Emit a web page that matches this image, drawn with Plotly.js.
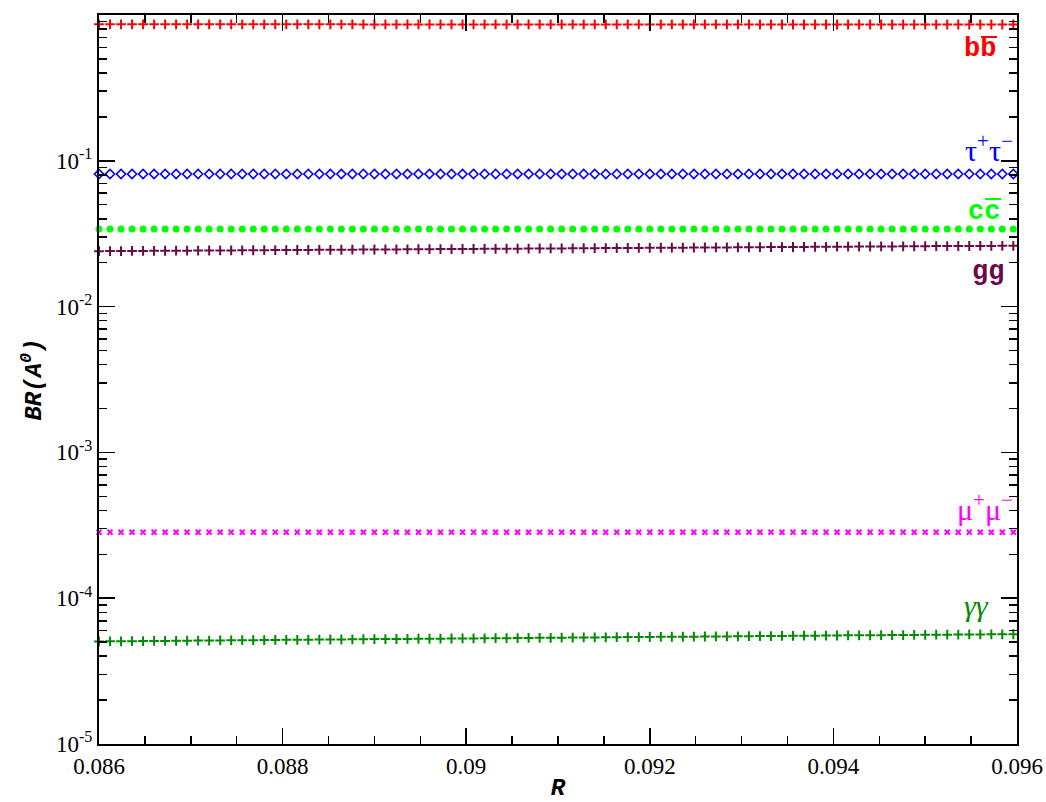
<!DOCTYPE html>
<html>
<head>
<meta charset="utf-8">
<script src="https://cdn.plot.ly/plotly-3.0.1.min.js"></script>
<style>
html,body{margin:0;padding:0;background:#fff;}
#chart{width:1046px;height:802px;}
#chart .xtick text, #chart .ytick text { font-family: 'Liberation Serif', 'Times New Roman', serif !important; font-size: 23px !important; }
#chart text.xtitle, #chart text.ytitle { font-family: 'Liberation Mono', 'Courier New', monospace !important; font-size: 24px !important; }
#chart .annotation[data-index="0"] text, #chart .annotation[data-index="1"] text, #chart .annotation[data-index="2"] text { font-family: 'Liberation Mono', 'Courier New', monospace !important; font-size: 27px !important; }
#chart .annotation[data-index="3"] text, #chart .annotation[data-index="4"] text, #chart .annotation[data-index="5"] text { font-family: 'Liberation Serif', 'Times New Roman', serif !important; font-size: 30px !important; }
</style>
</head>
<body>
<div id="chart"></div>
<script>
// R values (x)
var rValues = [
0.08600,0.08612,0.08624,0.08636,0.08648,0.08660,0.08672,0.08684,0.08696,0.08708,0.08720,0.08732,
0.08744,0.08756,0.08768,0.08780,0.08792,0.08804,0.08816,0.08828,0.08840,0.08852,0.08864,0.08876,
0.08888,0.08900,0.08912,0.08924,0.08936,0.08948,0.08960,0.08972,0.08984,0.08996,0.09008,0.09020,
0.09032,0.09044,0.09056,0.09068,0.09080,0.09092,0.09104,0.09116,0.09128,0.09140,0.09152,0.09164,
0.09176,0.09188,0.09200,0.09212,0.09224,0.09236,0.09248,0.09260,0.09272,0.09284,0.09296,0.09308,
0.09320,0.09332,0.09344,0.09356,0.09368,0.09380,0.09392,0.09404,0.09416,0.09428,0.09440,0.09452,
0.09464,0.09476,0.09488,0.09500,0.09512,0.09524,0.09536,0.09548,0.09560,0.09572,0.09584,0.09596
];
var brBB = [
0.863,0.863,0.863,0.863,0.863,0.863,0.863,0.863,0.863,0.863,0.863,0.863,
0.863,0.863,0.863,0.863,0.863,0.863,0.863,0.863,0.863,0.863,0.863,0.863,
0.862,0.862,0.862,0.862,0.862,0.862,0.862,0.862,0.862,0.862,0.862,0.862,
0.862,0.862,0.862,0.862,0.862,0.862,0.862,0.862,0.862,0.862,0.862,0.862,
0.862,0.862,0.862,0.862,0.862,0.862,0.862,0.862,0.862,0.862,0.862,0.862,
0.861,0.861,0.861,0.861,0.861,0.861,0.861,0.861,0.861,0.861,0.861,0.861,
0.861,0.861,0.861,0.861,0.861,0.861,0.861,0.861,0.861,0.861,0.861,0.861
];
var brTauTau = [
0.0812,0.0812,0.0812,0.0812,0.0812,0.0812,0.0812,0.0812,0.0812,0.0812,0.0812,0.0812,
0.0812,0.0812,0.0812,0.0812,0.0812,0.0812,0.0812,0.0812,0.0812,0.0812,0.0812,0.0812,
0.0812,0.0812,0.0812,0.0812,0.0812,0.0812,0.0812,0.0812,0.0812,0.0812,0.0812,0.0812,
0.0812,0.0812,0.0812,0.0812,0.0812,0.0812,0.0812,0.0812,0.0812,0.0812,0.0812,0.0812,
0.0812,0.0812,0.0812,0.0812,0.0812,0.0812,0.0812,0.0812,0.0812,0.0812,0.0812,0.0812,
0.0812,0.0812,0.0812,0.0812,0.0812,0.0812,0.0812,0.0812,0.0812,0.0812,0.0812,0.0812,
0.0812,0.0812,0.0812,0.0812,0.0812,0.0812,0.0812,0.0812,0.0812,0.0812,0.0812,0.0812
];
var brCC = [
0.0341,0.0341,0.0341,0.0341,0.0341,0.0341,0.0341,0.0341,0.0341,0.0341,0.0341,0.0341,
0.0341,0.0341,0.0341,0.0341,0.0341,0.0341,0.0341,0.0341,0.0341,0.0341,0.0341,0.0341,
0.0341,0.0341,0.0341,0.0341,0.0341,0.0341,0.0341,0.0341,0.0341,0.0341,0.0341,0.0341,
0.0341,0.0341,0.0341,0.0341,0.0341,0.0341,0.0341,0.0341,0.0341,0.0341,0.0341,0.0341,
0.0341,0.0341,0.0341,0.0341,0.0341,0.0341,0.0341,0.0341,0.0341,0.0341,0.0341,0.0341,
0.0341,0.0341,0.0341,0.0341,0.0341,0.0341,0.0341,0.0341,0.0341,0.0341,0.0341,0.0341,
0.0341,0.0341,0.0341,0.0341,0.0341,0.0341,0.0341,0.0341,0.0341,0.0341,0.0341,0.0341
];
var brGG = [
0.02400,0.02403,0.02405,0.02408,0.02410,0.02413,0.02415,0.02418,0.02420,0.02423,0.02425,0.02428,
0.02430,0.02433,0.02435,0.02438,0.02440,0.02443,0.02445,0.02448,0.02450,0.02453,0.02455,0.02458,
0.02460,0.02463,0.02466,0.02468,0.02471,0.02474,0.02476,0.02479,0.02482,0.02484,0.02487,0.02490,
0.02492,0.02495,0.02498,0.02500,0.02503,0.02506,0.02508,0.02511,0.02514,0.02516,0.02519,0.02522,
0.02524,0.02527,0.02530,0.02532,0.02535,0.02538,0.02540,0.02543,0.02546,0.02548,0.02551,0.02554,
0.02556,0.02559,0.02562,0.02564,0.02567,0.02570,0.02572,0.02575,0.02578,0.02580,0.02583,0.02586,
0.02588,0.02591,0.02594,0.02596,0.02599,0.02601,0.02603,0.02605,0.02607,0.02609,0.02611,0.02613
];
var brMuMu = [
2.83e-4,2.83e-4,2.83e-4,2.83e-4,2.83e-4,2.83e-4,2.83e-4,2.83e-4,2.83e-4,2.83e-4,2.83e-4,2.83e-4,
2.83e-4,2.83e-4,2.83e-4,2.83e-4,2.83e-4,2.83e-4,2.83e-4,2.83e-4,2.83e-4,2.83e-4,2.83e-4,2.83e-4,
2.83e-4,2.83e-4,2.83e-4,2.83e-4,2.83e-4,2.83e-4,2.83e-4,2.83e-4,2.83e-4,2.83e-4,2.83e-4,2.83e-4,
2.83e-4,2.83e-4,2.83e-4,2.83e-4,2.83e-4,2.83e-4,2.83e-4,2.83e-4,2.83e-4,2.83e-4,2.83e-4,2.83e-4,
2.83e-4,2.83e-4,2.83e-4,2.83e-4,2.83e-4,2.83e-4,2.83e-4,2.83e-4,2.83e-4,2.83e-4,2.83e-4,2.83e-4,
2.83e-4,2.83e-4,2.83e-4,2.83e-4,2.83e-4,2.83e-4,2.83e-4,2.83e-4,2.83e-4,2.83e-4,2.83e-4,2.83e-4,
2.83e-4,2.83e-4,2.83e-4,2.83e-4,2.83e-4,2.83e-4,2.83e-4,2.83e-4,2.83e-4,2.83e-4,2.83e-4,2.83e-4
];
var brGamGam = [
5.05e-5,5.06e-5,5.06e-5,5.07e-5,5.08e-5,5.09e-5,5.09e-5,5.10e-5,5.11e-5,5.12e-5,5.12e-5,5.13e-5,
5.14e-5,5.15e-5,5.15e-5,5.16e-5,5.17e-5,5.18e-5,5.18e-5,5.19e-5,5.20e-5,5.21e-5,5.21e-5,5.22e-5,
5.23e-5,5.24e-5,5.24e-5,5.25e-5,5.26e-5,5.27e-5,5.27e-5,5.28e-5,5.29e-5,5.30e-5,5.30e-5,5.31e-5,
5.32e-5,5.32e-5,5.33e-5,5.34e-5,5.35e-5,5.35e-5,5.36e-5,5.37e-5,5.38e-5,5.38e-5,5.39e-5,5.40e-5,
5.41e-5,5.41e-5,5.42e-5,5.43e-5,5.44e-5,5.44e-5,5.45e-5,5.46e-5,5.47e-5,5.47e-5,5.48e-5,5.49e-5,
5.50e-5,5.50e-5,5.51e-5,5.52e-5,5.53e-5,5.53e-5,5.54e-5,5.55e-5,5.56e-5,5.56e-5,5.57e-5,5.58e-5,
5.59e-5,5.59e-5,5.60e-5,5.61e-5,5.62e-5,5.62e-5,5.63e-5,5.64e-5,5.64e-5,5.65e-5,5.65e-5,5.66e-5
];
var yTickValues = [1e-5, 1e-4, 1e-3, 1e-2, 1e-1, 1];
var yTickLabels = ["10<sup>-5</sup>","10<sup>-4</sup>","10<sup>-3</sup>","10<sup>-2</sup>","10<sup>-1</sup>","10<sup>0</sup>"];

(function () {
  function mk(y, symbol, color, size, lw) {
    return {x: rValues, y: y, type: 'scatter', mode: 'markers', showlegend: false, hoverinfo: 'skip', cliponaxis: false,
      marker: {symbol: symbol, size: size, color: color, line: {color: color, width: lw}}};
  }
  var SERIF = 'Liberation Serif';
  var MONO = 'Liberation Mono';
  var data = [
    mk(brBB, 'cross-thin', '#ff0000', 7, 2),
    mk(brTauTau, 'diamond-open', '#0000ff', 7, 1.6),
    mk(brCC, 'circle', '#00ff00', 7, 0),
    mk(brGG, 'cross-thin', '#6b0a48', 7, 2),
    mk(brMuMu, 'x-thin', '#ff00ff', 5, 2),
    mk(brGamGam, 'cross-thin', '#008b00', 7, 2)
  ];
  var PL = 99, PR = 1017, PT = 15, PB = 744;
  function fx(x){ return (x - PL) / (PR - PL); }
  function fy(y){ return (PB - y) / (PB - PT); }
  function lab(text, x, y, color, size, family) {
    return {text: text, xref: 'paper', yref: 'paper', x: fx(x), y: fy(y), xanchor: 'right', yanchor: 'middle',
      showarrow: false, font: {family: family, size: size, color: color}};
  }
  var anns = [
    lab('<b>bb</b>', 998, 49, '#ff0000', 27, MONO),
    lab('<b>cc</b>', 1002, 212, '#00ff00', 27, MONO),
    lab('<b>gg</b>', 1006, 272, '#6b0a48', 27, MONO),
    lab('τ<sup>+</sup>τ<sup>−</sup>', 1015, 148, '#0000ff', 30, SERIF),
    lab('μ<sup>+</sup>μ<sup>−</sup>', 1015, 507, '#ff00ff', 30, SERIF),
    lab('<i>γγ</i>', 991, 605, '#008b00', 30, SERIF)
  ];
  var lines = [
    {type: 'line', xref: 'paper', yref: 'paper', x0: fx(981), x1: fx(997), y0: fy(37), y1: fy(37), line: {color: '#ff0000', width: 2}},
    {type: 'line', xref: 'paper', yref: 'paper', x0: fx(985), x1: fx(1001), y0: fy(199), y1: fy(199), line: {color: '#00ff00', width: 2}}
  ];
  var lay = {
    width: 1046, height: 802,
    margin: {l: PL, r: 1046 - PR, t: PT, b: 802 - PB},
    paper_bgcolor: '#ffffff', plot_bgcolor: '#ffffff',
    showlegend: false,
    xaxis: {
      range: [0.086, 0.096], tick0: 0.086, dtick: 0.002, tickmode: 'linear',
      ticks: 'inside', ticklen: 16, tickwidth: 1.5, tickcolor: '#000',
      minor: {ticks: 'inside', ticklen: 8, tickwidth: 1.5, tickcolor: '#000', dtick: 0.0005, tick0: 0.086, showgrid: false},
      showline: true, linecolor: '#000', linewidth: 2, mirror: 'allticks',
      showgrid: false, zeroline: false,
      tickfont: {family: SERIF, size: 23, color: '#000'},
      title: {text: '<b><i>R</i></b>', font: {family: MONO, size: 24, color: '#000'}, standoff: 6}
    },
    yaxis: {
      type: 'log', range: [-5, 0],
      tickmode: 'array', tickvals: yTickValues, ticktext: yTickLabels,
      ticks: 'inside', ticklen: 16, tickwidth: 1.5, tickcolor: '#000',
      minor: {ticks: 'inside', ticklen: 8, tickwidth: 1.5, tickcolor: '#000', dtick: 'D1', showgrid: false},
      showline: true, linecolor: '#000', linewidth: 2, mirror: 'allticks',
      showgrid: false, zeroline: false,
      tickfont: {family: SERIF, size: 23, color: '#000'},
      title: {text: '<b><i>BR(A<sup>0</sup>)</i></b>', font: {family: MONO, size: 24, color: '#000'}, standoff: 8}
    },
    annotations: anns,
    shapes: lines
  };
  Plotly.newPlot('chart', data, lay, {displayModeBar: false, staticPlot: true});
})();
</script>
</body>
</html>
